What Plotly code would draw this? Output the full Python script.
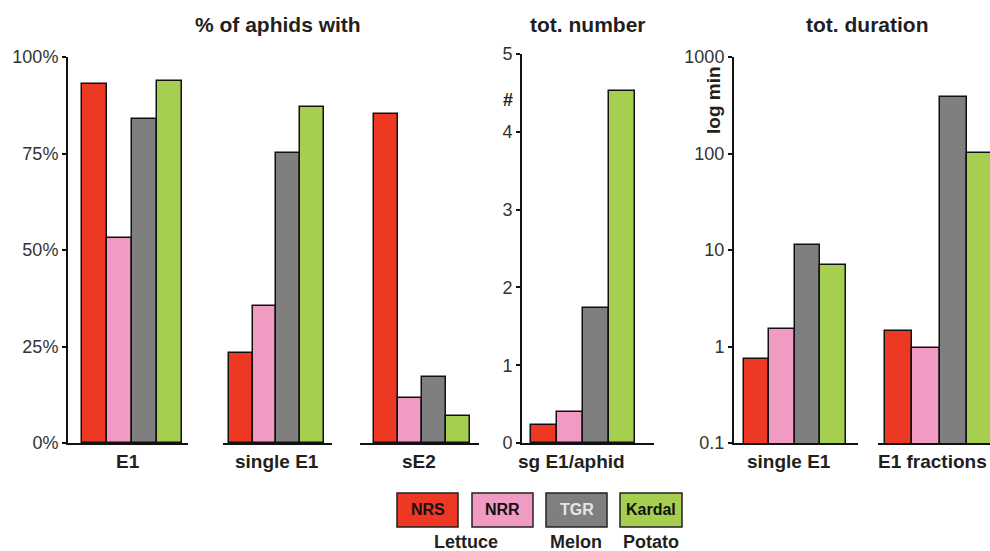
import plotly.graph_objects as go

W, H = 990, 551
def fx(p): return p / W
def fy(p): return 1 - p / H

cultivars = ["NRS", "NRR", "TGR", "Kardal"]
hosts = ["Lettuce", "Lettuce", "Melon", "Potato"]
colors = ["#ed3824", "#f09ac4", "#7f7f7f", "#a6cf50"]

# % of aphids with
pct_E1 = [92.9, 53.1, 83.9, 93.9]
pct_single_E1 = [23.4, 35.5, 75.2, 87.1]
pct_sE2 = [85.2, 11.7, 17.0, 7.0]
# tot. number
num_sgE1_per_aphid = [0.23, 0.40, 1.74, 4.53]
# tot. duration (min, log)
dur_single_E1 = [0.75, 1.51, 11.3, 7.0]
dur_E1_fractions = [1.44, 0.96, 388, 102]

pct_ticks = [0, 25, 50, 75, 100]
pct_ticktext = ["0%", "25%", "50%", "75%", "100%"]
num_ticks = [0, 1, 2, 3, 4, 5]
dur_ticks = [0.1, 1, 10, 100, 1000]
dur_ticktext = ["0.1", "1", "10", "100", "1000"]

FONT = "Liberation Sans, Arial, sans-serif"
TXT = "#231f20"

groups = [
    # (values, xaxis, yaxis, label, label_x, anchor, domain px, range)
    (pct_E1, "x", "y", "E1", 128, "center", (68, 188), [-1.06, 3.74]),
    (pct_single_E1, "x2", "y", "single E1", 277, "center", (223, 332), [-0.75, 3.84]),
    (pct_sE2, "x3", "y", "sE2", 419, "center", (360, 479), [-1.08, 3.875]),
    (num_sgE1_per_aphid, "x4", "y2", "sg E1/aphid", 571, "center", (522, 654), [-0.85, 4.23]),
    (dur_single_E1, "x5", "y3", "single E1", 789, "center", (734, 858), [-0.89, 3.97]),
    (dur_E1_fractions, "x6", "y3", "E1 fractions", 989, "right", (878, 990), [-0.75, 3.32]),
]

fig = go.Figure()
layout_axes = {}
annotations = []
for vals, xa, ya, lab, lx, lanchor, dom, rng in groups:
    fig.add_trace(go.Bar(
        x=cultivars, y=vals, xaxis=xa, yaxis=ya,
        marker=dict(color=colors, line=dict(color="#111111", width=1.5)),
        width=1.0, showlegend=False, hoverinfo="x+y",
    ))
    key = "xaxis" if xa == "x" else "xaxis" + xa[1:]
    layout_axes[key] = dict(
        domain=[fx(dom[0]), fx(dom[1])], anchor=ya, range=rng,
        showline=True, linecolor="#111111", linewidth=2,
        showticklabels=False, ticks="", showgrid=False, zeroline=False,
        type="category", fixedrange=True, automargin=False,
    )
    annotations.append(dict(
        x=fx(lx), y=fy(461), xref="paper", yref="paper", text=lab,
        showarrow=False, xanchor=lanchor, yanchor="middle",
        font=dict(family=FONT, size=19, color=TXT, weight="bold"),
    ))

yax_common = dict(
    showline=True, linecolor="#111111", linewidth=2,
    ticks="outside", ticklen=4, tickwidth=1.5, tickcolor="#111111",
    showgrid=False, zeroline=False, automargin=False,
    tickfont=dict(family=FONT, size=18, color="#333333"),
    fixedrange=True,
)
layout_axes["yaxis"] = dict(yax_common, domain=[fy(443), fy(57)], anchor="x",
                            range=[0, 100], tickvals=pct_ticks, ticktext=pct_ticktext)
layout_axes["yaxis2"] = dict(yax_common, domain=[fy(443), fy(54)], anchor="x4",
                             range=[0, 5], tickvals=num_ticks)
layout_axes["yaxis3"] = dict(yax_common, domain=[fy(443), fy(57)], anchor="x5",
                             type="log", range=[-1, 3], tickvals=dur_ticks, ticktext=dur_ticktext)

# panel titles
for txt, cx in [("% of aphids with", 278), ("tot. number", 588), ("tot. duration", 867)]:
    annotations.append(dict(
        x=fx(cx), y=fy(24), xref="paper", yref="paper", text=txt, showarrow=False,
        xanchor="center", yanchor="middle",
        font=dict(family=FONT, size=21, color=TXT, weight="bold"),
    ))

# axis unit labels
annotations.append(dict(x=fx(508), y=fy(100), xref="paper", yref="paper", text="#",
                        showarrow=False, xanchor="center", yanchor="middle",
                        font=dict(family=FONT, size=18, color=TXT, weight="bold")))
annotations.append(dict(x=fx(713), y=fy(100), xref="paper", yref="paper", text="log min",
                        showarrow=False, xanchor="center", yanchor="middle", textangle=-90,
                        font=dict(family=FONT, size=19, color=TXT, weight="bold")))

# legend boxes
shapes = []
boxes = [(397, 458), (472, 533), (546, 607), (620, 682)]
label_colors = ["#111111", "#111111", "#e6e6e6", "#111111"]
for (x0, x1), c, name, lc in zip(boxes, colors, cultivars, label_colors):
    shapes.append(dict(type="rect", xref="paper", yref="paper",
                       x0=fx(x0), x1=fx(x1), y0=fy(527), y1=fy(493),
                       fillcolor=c, line=dict(color="#222222", width=1.5)))
    annotations.append(dict(x=fx((x0 + x1) / 2), y=fy(510), xref="paper", yref="paper",
                            text=name, showarrow=False, xanchor="center", yanchor="middle",
                            font=dict(family=FONT, size=16, color=lc, weight="bold")))
for txt, cx in [(hosts[0], 466), (hosts[2], 576), (hosts[3], 651)]:
    annotations.append(dict(x=fx(cx), y=fy(542), xref="paper", yref="paper", text=txt,
                            showarrow=False, xanchor="center", yanchor="middle",
                            font=dict(family=FONT, size=18, color=TXT, weight="bold")))

fig.update_layout(
    template="none",
    width=W, height=H, margin=dict(l=0, r=0, t=0, b=0, pad=0, autoexpand=False),
    paper_bgcolor="white", plot_bgcolor="white",
    bargap=0, barmode="group",
    annotations=annotations, shapes=shapes,
    font=dict(family=FONT, color=TXT),
    **layout_axes,
)

fig.write_html("out.html")
